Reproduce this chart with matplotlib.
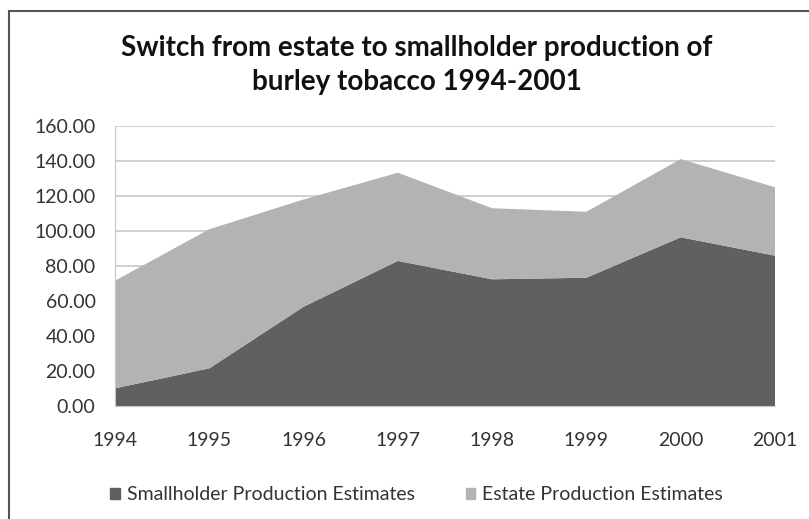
import matplotlib
matplotlib.use("Agg")
import matplotlib.pyplot as plt
from matplotlib.patches import Rectangle, Patch

years = ["1994", "1995", "1996", "1997", "1998", "1999", "2000", "2001"]
smallholder = [10.1, 21.5, 56.7, 82.9, 72.4, 73.3, 96.4, 85.9]
estate = [61.5, 79.5, 61.3, 50.4, 40.6, 37.7, 44.7, 39.1]
yticks = [0, 20, 40, 60, 80, 100, 120, 140, 160]

plt.rcParams['font.family'] = ['Lato', 'DejaVu Sans']

fig = plt.figure(figsize=(8.09, 5.19), dpi=100)
fig.patches.append(Rectangle((9/809, -0.1), 1.1, (519-11)/519 + 0.1, transform=fig.transFigure,
                             fill=False, edgecolor='#555555', linewidth=1.5))
ax = fig.add_axes([115/809, (519-406)/519, 660/809, 280/519])
x = list(range(len(years)))
ax.stackplot(x, smallholder, estate, colors=['#606060', '#b3b3b3'], zorder=2)
ax.set_xlim(0, len(years) - 1)
ax.set_ylim(0, 160)
ax.set_yticks(yticks)
ax.set_yticklabels([f"{v:.2f}" for v in yticks], fontsize=14, color='#333333')
ax.set_xticks(x)
ax.set_xticklabels(years, fontsize=14, color='#333333')
ax.tick_params(length=0)
ax.tick_params(axis='y', pad=14)
ax.tick_params(axis='x', pad=19)
ax.grid(axis='y', color='#c8c8c8', linewidth=1.2, zorder=1)
for s in ['top', 'right']:
    ax.spines[s].set_visible(False)
ax.spines['left'].set_color('#c8c8c8')
ax.spines['bottom'].set_color('#c8c8c8')
ax.set_axisbelow(True)

fig.suptitle("Switch from estate to smallholder production of\nburley tobacco 1994-2001",
             x=0.515, y=1 - 35/519, va='top', fontsize=20, fontweight='bold', color='#111111',
             linespacing=1.4)

handles = [Patch(color='#606060', label='Smallholder Production Estimates'),
           Patch(color='#b3b3b3', label='Estate Production Estimates')]
fig.legend(handles=handles, loc='center', bbox_to_anchor=(0.515, 1 - 495/519), ncol=2,
           frameon=False, fontsize=14, handlelength=0.5, handleheight=0.5, handletextpad=0.35,
           columnspacing=2.6, labelcolor='#333333')

fig.savefig("out.png", dpi=100)
